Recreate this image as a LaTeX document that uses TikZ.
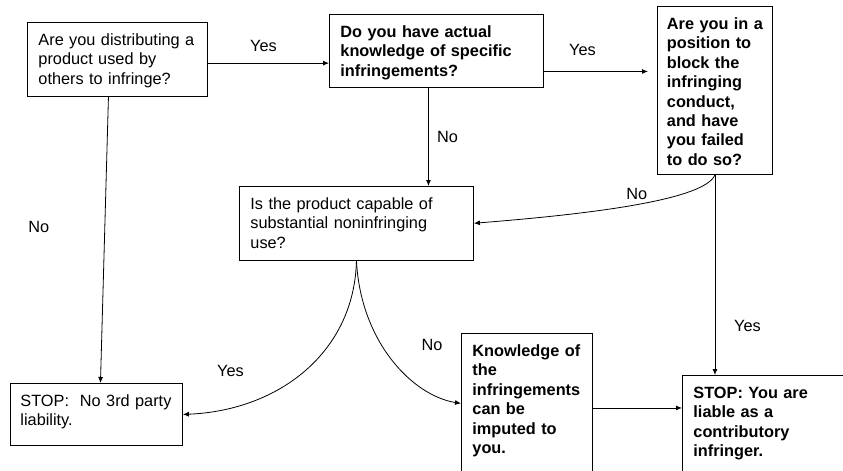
\documentclass[tikz,border=0pt]{standalone}
\usepackage{fontspec}
\setmainfont{Liberation Sans}
\usetikzlibrary{arrows.meta,calc}

\begin{document}
\begin{tikzpicture}[x=1pt,y=-1pt,
  every node/.style={font=\fontsize{16.3}{19.4}\selectfont},
  qbox/.style={draw,line width=0.9pt,anchor=north west,inner xsep=11pt,inner ysep=0pt,align=left,text height=23pt},
  lbl/.style={anchor=base,inner sep=0pt},
  arr/.style={-{Latex[length=6pt,width=5pt]},line width=0.8pt}]
  \clip (0,0) rectangle (843,471);

  %question boxes
  \node[qbox,text width=158pt,text depth=51pt] (distrib) at (27,22) {Are you distributing a\\product used by\\others to infringe?};
  \node[qbox,text width=192pt,text depth=50pt,font=\fontsize{16.3}{19.4}\selectfont\bfseries] (knows) at (329,14) {Do you have actual\\knowledge of specific\\infringements?};
  \node[qbox,inner xsep=9.5pt,text width=96pt,text depth=145pt,font=\fontsize{16.3}{19.4}\selectfont\bfseries] (block) at (657,6) {\mbox{Are you in a}\\position to\\block the\\infringing\\conduct,\\and have\\you failed\\to do so?};
  \node[qbox,text width=212pt,text depth=50.6pt] (capable) at (239,186) {Is the product capable of\\substantial noninfringing\\use?};

  %end boxes
  \node[qbox,inner xsep=10pt,text width=152pt,text depth=39pt] (noliab) at (10,383) {STOP:~ No 3rd party\\liability.};
  \node[qbox,text width=109pt,text depth=117pt,font=\fontsize{16.3}{19.4}\selectfont\bfseries] (imputed) at (461,333) {Knowledge of\\the\\infringements\\can be\\imputed to\\you.};
  \node[qbox,text width=153pt,text depth=87pt,font=\fontsize{16.3}{19.4}\selectfont\bfseries] (liable) at (682,375) {STOP: You are\\liable as a\\contributory\\infringer.};

  %connectors
  \draw[arr] ([yshift=-3.7pt]distrib.east) -- ([yshift=-3.7pt]distrib.east -| knows.west);
  \draw[arr] ([yshift=-20.5pt]knows.east) -- ($([yshift=-20.5pt]knows.east -| block.west)+(-9,0)$);
  \draw[arr] ([xshift=-8pt]knows.south) -- ([xshift=-8pt]knows.south |- capable.north);
  \draw[arr] (block.south) .. controls +(-10,24) and +(127,-10) .. (capable.east);
  \draw[arr] (block.south) -- (block.south |- liable.north);
  \draw[arr] ([xshift=-9pt]distrib.south) -- ([xshift=4pt]noliab.north);
  \draw[arr] (capable.south) .. controls +(-2,91) and +(97,-4) .. (noliab.east);
  \draw[arr] (capable.south) .. controls +(4,81) and +(-49,-8) .. (imputed.west);
  \draw[arr] ([yshift=-4.5pt]imputed.east) -- ([yshift=-4.5pt]imputed.east -| liable.west);

  %yes/no labels
  \node[lbl] (yesknows) at (263.5,51.7) {Yes};
  \node[lbl] (yesblock) at (582.5,55) {Yes};
  \node[lbl] (nocapable) at (447.5,142) {No};
  \node[lbl] (noblock) at (636.7,199) {No};
  \node[lbl] (nodistrib) at (38.7,232.3) {No};
  \node[lbl] (yesnoliab) at (230.5,376) {Yes};
  \node[lbl] (noimputed) at (432,350.7) {No};
  \node[lbl] (yesliable) at (747.5,331) {Yes};
\end{tikzpicture}
\end{document}
